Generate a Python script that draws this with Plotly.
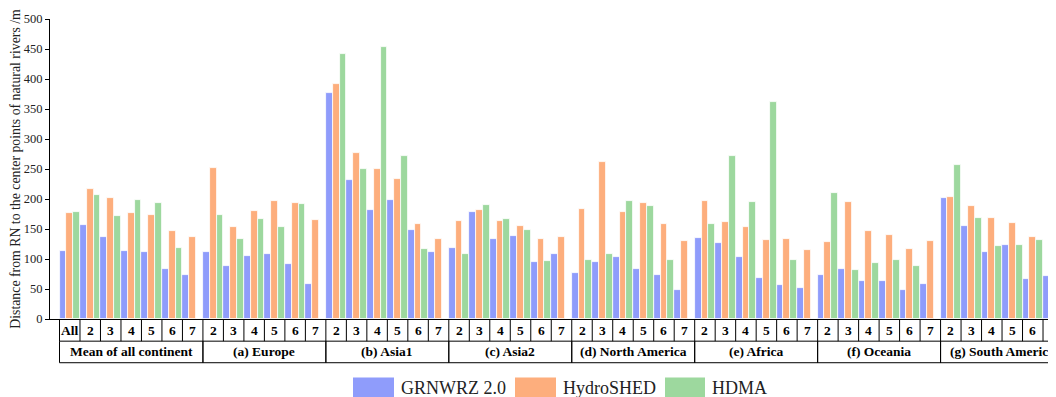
import plotly.graph_objects as go

# ---------------- data ----------------
groups = ["Mean of all continent", "(a) Europe", "(b) Asia1", "(c) Asia2",
          "(d) North America", "(e) Africa", "(f) Oceania", "(g) South America"]
sub_first = ["All", "2", "3", "4", "5", "6", "7"]
sub_other = ["2", "3", "4", "5", "6", "7"]

series_names = ["GRNWRZ 2.0", "HydroSHED", "HDMA"]

grnwrz = [113, 156, 136, 114, 112, 83, 73,
          112, 89, 105, 108, 92, 59,
          377, 231, 181, 199, 148, 112,
          118, 179, 134, 138, 95, 109,
          77, 95, 103, 83, 73, 49,
          135, 126, 103, 68, 56, 52,
          74, 83, 64, 64, 49, 59,
          201, 155, 112, 124, 67, 71]

hydroshed = [176, 217, 202, 177, 173, 147, 136,
             251, 153, 180, 196, 194, 165,
             392, 276, 250, 234, 159, 134,
             163, 182, 163, 155, 134, 136,
             184, 261, 179, 194, 158, 130,
             196, 161, 153, 132, 134, 115,
             129, 195, 147, 140, 116, 130,
             204, 189, 168, 160, 136, 139]

hdma = [178, 207, 172, 199, 193, 118, None,
        174, 133, 166, 153, 191, None,
        442, 250, 453, 272, 116, None,
        109, 190, 166, 148, 96, None,
        99, 108, 196, 188, 99, None,
        158, 272, 195, 361, 99, None,
        210, 82, 93, 99, 89, None,
        257, 169, 122, 124, 132, None]

colors = ["#8f9cfb", "#fdae7d", "#9dd89e"]

# ---------------- build categories ----------------
sub_labels = []
group_spans = []
for gi, g in enumerate(groups):
    subs = sub_first if gi == 0 else sub_other
    start = len(sub_labels)
    sub_labels.extend(subs)
    group_spans.append((start, len(sub_labels) - 1))
xpos = list(range(len(sub_labels)))

# ---------------- geometry (page pixels; page has 8px body margin) ----------------
OFF = 8
WIN_W, WIN_H = 1056, 397
EXTRA_R = 20
W, H = WIN_W - OFF + EXTRA_R, WIN_H - OFF
axis_left_px = 50.0      # page px of y-axis line
plot_top_px = 19.0       # page px of y=500
plot_bot_px = 319.5      # page px of y=0
plot_right_px = 1066.0   # page px of plot-area right edge (beyond window)
ML = axis_left_px - OFF
MT = plot_top_px - OFF
MB = H - (plot_bot_px - OFF)
MR = (W + OFF) - plot_right_px
PW = W - ML - MR
PH = H - MT - MB
cell_px = 20.49
first_cell_left_px = 59.5
x0 = -0.5 - (first_cell_left_px - axis_left_px) / cell_px
x1 = x0 + PW / cell_px


def py2paper(py):
    return (plot_bot_px - py) / PH


def px2paper(px):
    return (px - axis_left_px) / PW


fig = go.Figure()
for name, vals, col in zip(series_names, [grnwrz, hydroshed, hdma], colors):
    fig.add_trace(go.Bar(x=xpos, y=vals, name=name, marker_color=col,
                         marker_line_color="white", marker_line_width=0.8,
                         showlegend=False))

serif = "Liberation Serif"
shapes = []
annotations = []

row1_top = py2paper(319.5)
row1_bot = py2paper(341.7)
row2_bot = py2paper(363.3)
line = dict(color="black", width=1)

for yy in (row1_bot, row2_bot):
    shapes.append(dict(type="line", xref="x", yref="paper", x0=-0.5, x1=x1,
                       y0=yy, y1=yy, line=line))
for i in range(len(sub_labels) + 1):
    shapes.append(dict(type="line", xref="x", yref="paper", x0=i - 0.5, x1=i - 0.5,
                       y0=row1_top, y1=row1_bot, line=line))
for (s, e) in group_spans:
    for b in (s - 0.5, e + 0.5):
        shapes.append(dict(type="line", xref="x", yref="paper", x0=b, x1=b,
                           y0=row1_bot, y1=row2_bot, line=line))

for i, lab in enumerate(sub_labels):
    annotations.append(dict(x=i, y=(row1_top + row1_bot) / 2, xref="x", yref="paper",
                            text="<b>%s</b>" % lab, showarrow=False,
                            font=dict(family=serif, size=13.5, color="black"),
                            xanchor="center", yanchor="middle"))
for g, (s, e) in zip(groups, group_spans):
    annotations.append(dict(x=(s + e) / 2, y=(row1_bot + row2_bot) / 2, xref="x", yref="paper",
                            text="<b>%s</b>" % g, showarrow=False,
                            font=dict(family=serif, size=13.5, color="black"),
                            xanchor="center", yanchor="middle"))

# custom legend (page px)
legend_boxes = [(353, 394, 399), (515, 556, 561), (665, 705, 710)]
for (bx0, bx1, tx), name, col in zip(legend_boxes, series_names, colors):
    shapes.append(dict(type="rect", xref="paper", yref="paper",
                       x0=px2paper(bx0), x1=px2paper(bx1),
                       y0=py2paper(378), y1=py2paper(402),
                       fillcolor=col, line=dict(width=0)))
    annotations.append(dict(x=px2paper(tx), y=py2paper(389), xref="paper", yref="paper",
                            text=name, showarrow=False,
                            font=dict(family=serif, size=18, color="#222"),
                            xanchor="left", yanchor="middle"))

fig.update_layout(
    width=W, height=H,
    margin=dict(l=ML, r=MR, t=MT, b=MB, pad=0, autoexpand=False),
    paper_bgcolor="white", plot_bgcolor="white",
    barmode="group", bargap=0, bargroupgap=0,
    shapes=shapes, annotations=annotations,
    showlegend=False,
    font=dict(family=serif, color="black"),
)
fig.update_xaxes(range=[x0, x1], showticklabels=False, ticks="", showgrid=False,
                 zeroline=False, showline=True, linecolor="black", linewidth=1,
                 automargin=False)
fig.update_yaxes(range=[0, 500], dtick=50, tick0=0, ticks="outside", ticklen=4,
                 tickcolor="black", showgrid=False, zeroline=False, showline=True,
                 linecolor="black", linewidth=1, automargin=False,
                 tickfont=dict(family=serif, size=12.5, color="#222"),
                 title=dict(text="Distance from RN to the center points of natural rivers /m",
                            font=dict(family=serif, size=13.8, color="#222"), standoff=1))

fig.write_html("out.html")
